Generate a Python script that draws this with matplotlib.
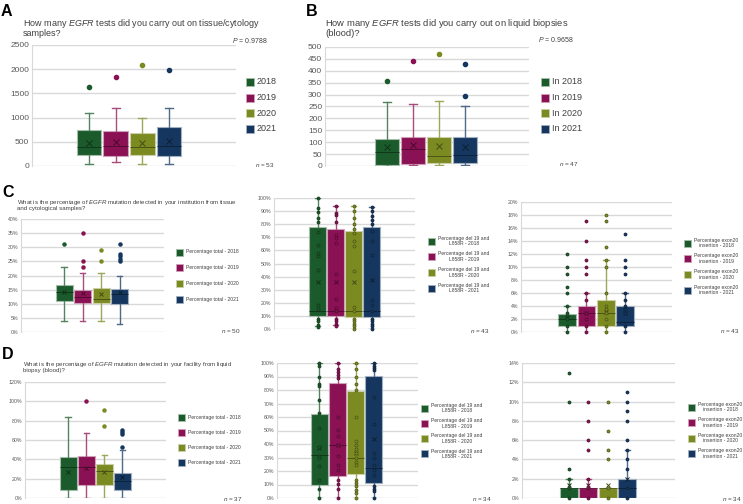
import matplotlib
matplotlib.use('Agg')
import matplotlib.pyplot as plt
import matplotlib.colors as mcolors
from matplotlib.patches import Rectangle
from matplotlib.ticker import PercentFormatter, MultipleLocator

plt.rcParams['font.family'] = ['Liberation Sans', 'DejaVu Sans']
plt.rcParams['mathtext.fontset'] = 'custom'
plt.rcParams['mathtext.rm'] = 'Liberation Sans'
plt.rcParams['mathtext.it'] = 'Liberation Sans:italic'

W, H = 743, 504
colors = ['#1b5a2b', '#8a1153', '#7c8a22', '#15375f']
years = ['2018', '2019', '2020', '2021']

# A - tests on tissue/cytology
a_q1 = [220, 207, 220, 200]
a_med = [400, 405, 400, 420]
a_q3 = [740, 725, 685, 800]
a_lo = [50, 80, 50, 50]
a_hi = [1100, 1200, 1000, 1200]
a_mean = [480, 495, 480, 510]
a_out = [[1640], [1830], [2080], [1990]]

# B - tests on liquid biopsies
b_q1 = [3, 10, 12, 12]
b_med = [58, 70, 40, 45]
b_q3 = [115, 120, 122, 120]
b_lo = [0, 3, 3, 3]
b_hi = [270, 262, 275, 252]
b_mean = [79, 87, 84, 80]
b_out = [[358], [440], [470], [296, 428]]

# C - tissue, percentage total
c1_q1 = [11, 10.4, 10.4, 10]
c1_med = [14, 12.5, 11.8, 13.3]
c1_q3 = [16.8, 15, 15.5, 15.3]
c1_lo = [4, 4, 4, 3]
c1_hi = [23, 21, 21, 20]
c1_mean = [14, 13.9, 13.5, 14.1]
c1_out = [[31], [35, 25, 23], [29, 25], [31, 27.5, 27, 26, 25]]

# C - tissue, del19 and L858R
c2_q1 = [10, 10, 9, 9]
c2_med = [14, 14, 14, 14]
c2_q3 = [78, 76, 75, 77.5]
c2_lo = [2, 3, 0, 0]
c2_hi = [100, 94, 94, 93]
c2_mean = [36, 36, 36, 37.7]
c2_pts = [
    [100, 92, 89, 85, 82, 74, 64, 58, 56, 45, 18.6, 15.5, 7.6, 6, 3.3, 1.5],
    [94, 88.5, 87, 82, 72, 69.5, 66, 42, 23, 16, 13.5, 8, 6, 4, 2.5],
    [94, 90, 85, 80, 76.5, 73, 67.5, 63.6, 44, 16.5, 13.5, 8, 6, 4, 2, 0],
    [93, 90, 86, 83, 80, 74.5, 67.5, 56.7, 22.4, 18.6, 13.5, 8, 6, 4, 2, 0],
]

# C - tissue, exon20 insertion
c3_q1 = [1, 1, 1, 1]
c3_med = [2, 3, 3, 1.5]
c3_q3 = [2.7, 4, 5, 4]
c3_lo = [0, 0, 0, 0]
c3_hi = [4, 6, 11, 6]
c3_mean = [2.3, 3, 3.1, 3]
c3_pts = [
    [12, 10, 9, 7, 6, 4, 3, 2, 1, 0],
    [17, 14, 11, 10, 9, 6, 5, 3, 2, 1, 0],
    [18, 17, 13, 11, 10, 6, 4, 3.5, 3, 2, 1, 0],
    [15, 11, 10, 9, 6, 5, 4, 3.5, 3, 1, 0],
]

# D - liquid biopsy, percentage total
d1_q1 = [8, 13, 13, 8]
d1_med = [32, 32, 28, 18]
d1_q3 = [42, 43.5, 35, 25.5]
d1_lo = [0, 0, 0, 0]
d1_hi = [84, 67, 45, 50]
d1_mean = [27, 31, 27, 21.7]
d1_out = [[], [100], [91, 75], [70, 68, 66, 53]]

# D - liquid biopsy, del19 and L858R
d2_q1 = [10, 16, 18, 11]
d2_med = [32, 39, 30, 22.5]
d2_q3 = [62, 85, 79, 90.5]
d2_lo = [0, 0, 0, 0]
d2_hi = [100, 100, 100, 100]
d2_mean = [37, 39, 33, 43.7]
d2_pts = [
    [100, 97.5, 90, 84.4, 82.7, 72.8, 63, 52, 38, 31, 29.6, 23.5, 13.6, 6.7, 0],
    [100, 95.5, 93, 91.4, 89, 60, 50.6, 45.7, 39.5, 31.4, 24.7, 21, 13, 10.4, 6.7, 0],
    [100, 95.5, 90, 84.4, 80, 60, 42, 39.5, 36, 33, 29.6, 27, 24.7, 13.6, 11, 8.6, 6, 3.7, 0],
    [100, 98, 96, 95, 75, 55, 33, 29.6, 24.7, 21, 17, 8.6, 6.7, 5, 0],
]

# D - liquid biopsy, exon20 insertion
d3_q1 = [0, 0, 0, 0]
d3_med = [1, 1, 1, 1]
d3_q3 = [1, 1, 1, 2]
d3_lo = [0, 0, 0, 0]
d3_hi = [2, 2, 1, 5]
d3_mean = [1.3, 1.4, 1.4, 2]
d3_pts = [
    [13, 10, 3, 2, 1, 0],
    [10, 8, 6, 5, 2, 1, 0],
    [10, 7, 5, 4, 1, 0],
    [11, 10, 9, 8, 6, 5, 4, 3, 1, 0],
]

lab_total = ['Percentage total - ' + y for y in years]
lab_del = ['Percentage del 19 and\nL858R - ' + y for y in years]
lab_exon = ['Percentage exon20\ninsertion - ' + y for y in years]


def shade(c, f):
    r = mcolors.to_rgb(c)
    if f >= 0:
        return tuple(x + (1 - x) * f for x in r)
    return tuple(x * (1 + f) for x in r)


fig = plt.figure(figsize=(W / 100, H / 100), dpi=100)
renderer = fig.canvas.get_renderer()


def fx(x):
    return x / W


def fy(y):
    return 1 - y / H


def panel(rect, q1, med, q3, lo, hi, mean, out, pts, off, span, ymax, step,
          pct=False, fs=3.8, ms=2.2, mx=3.5):
    x0, x1, y0, y1 = rect
    ax = fig.add_axes([fx(x0), fy(y1), (x1 - x0) / W, (y1 - y0) / H])
    stats = []
    for i in range(4):
        stats.append(dict(med=med[i], q1=q1[i], q3=q3[i], whislo=lo[i],
                          whishi=hi[i], mean=mean[i],
                          fliers=out[i] if out else []))
    pos = [1, 2, 3, 4]
    bp = ax.bxp(stats, positions=pos, widths=0.92, patch_artist=True,
                showmeans=True, capwidths=0.3)
    for i, c in enumerate(colors):
        bp['boxes'][i].set(facecolor=c, edgecolor=shade(c, 0.6), linewidth=0.8)
        bp['medians'][i].set(color=shade(c, -0.45), linewidth=0.6)
        for w in bp['whiskers'][2 * i:2 * i + 2] + bp['caps'][2 * i:2 * i + 2]:
            w.set(color=shade(c, 0.25), linewidth=1.0)
        bp['means'][i].set(marker='x', markeredgecolor=shade(c, -0.45),
                           markersize=mx, markeredgewidth=0.7)
        bp['fliers'][i].set(marker='o', markerfacecolor=c, markeredgecolor=c,
                            markersize=ms)
    if pts:
        for i, c in enumerate(colors):
            ax.plot([pos[i]] * len(pts[i]), pts[i], 'o', ms=ms,
                    mfc=c, mec=shade(c, -0.4), mew=0.5, zorder=3, clip_on=False)
    ax.set_xlim(1 - off, 1 - off + span)
    ax.set_ylim(0, ymax)
    ax.yaxis.set_major_locator(MultipleLocator(step))
    if pct:
        ax.yaxis.set_major_formatter(PercentFormatter(decimals=0))
    ax.grid(axis='y', color='#d9d9d9', linewidth=1.0)
    ax.set_axisbelow(True)
    for s in ['top', 'right', 'bottom']:
        ax.spines[s].set_visible(False)
    ax.spines['left'].set_color('#d9d9d9')
    ax.set_xticks([])
    ax.tick_params(axis='y', length=0, labelsize=fs, labelcolor='#595959', pad=2)
    return ax


def legend_at(x, y, sp, labels, fs, sq=7):
    for i, (c, lab) in enumerate(zip(colors, labels)):
        yy = y + i * sp
        fig.add_artist(Rectangle((fx(x), fy(yy + sq / 2)), sq / W, sq / H,
                                 transform=fig.transFigure, facecolor=c,
                                 edgecolor=shade(c, 0.6), linewidth=0.6))
        fig.text(fx(x + sq + 3), fy(yy), lab, fontsize=fs, va='center',
                 ha='left', multialignment='center', color='#404040',
                 linespacing=1.1)


# A
panel((32, 236, 45, 166), a_q1, a_med, a_q3, a_lo, a_hi, a_mean, a_out, None,
      2.13, 7.64, 2500, 500, fs=6, ms=3, mx=5)
# B
panel((325, 529, 47, 166), b_q1, b_med, b_q3, b_lo, b_hi, b_mean, b_out, None,
      2.38, 7.85, 500, 50, fs=6, ms=3, mx=5)
# C
panel((21, 164, 219, 332), c1_q1, c1_med, c1_q3, c1_lo, c1_hi, c1_mean, c1_out,
      None, 2.34, 7.75, 40, 5, pct=True)
panel((274, 415, 198, 329), c2_q1, c2_med, c2_q3, c2_lo, c2_hi, c2_mean, None,
      c2_pts, 2.42, 7.83, 100, 10, pct=True)
panel((521, 672, 202, 332), c3_q1, c3_med, c3_q3, c3_lo, c3_hi, c3_mean, None,
      c3_pts, 2.38, 7.8, 20, 2, pct=True)
# D
panel((25, 166, 382, 498), d1_q1, d1_med, d1_q3, d1_lo, d1_hi, d1_mean, d1_out,
      None, 2.39, 7.8, 120, 20, pct=True)
panel((277, 418, 363, 498), d2_q1, d2_med, d2_q3, d2_lo, d2_hi, d2_mean, None,
      d2_pts, 2.36, 7.83, 100, 10, pct=True)
panel((522, 675, 363, 498), d3_q1, d3_med, d3_q3, d3_lo, d3_hi, d3_mean, None,
      d3_pts, 2.41, 7.85, 14, 2, pct=True)

# legends
legend_at(246, 82, 15.5, years, 6.5, sq=8)
legend_at(541, 82, 15.5, ['In ' + y for y in years], 6.5, sq=8)
legend_at(176, 252, 15.7, lab_total, 3.6)
legend_at(428, 241, 15.7, lab_del, 3.6)
legend_at(684, 243, 15.7, lab_exon, 3.6)
legend_at(178, 417, 15.3, lab_total, 3.6)
legend_at(421, 408, 15.3, lab_del, 3.6)
legend_at(688, 407, 15.5, lab_exon, 3.6)

# panel letters and titles
for lx, ly, s in [(1, 4, 'A'), (306, 4, 'B'), (2, 185, 'C'), (2, 347, 'D')]:
    fig.text(fx(lx), fy(ly), s, fontsize=11.5, fontweight='bold', va='top')


def title(x, y, lines, width, dy):
    # first line sets the font size so that it spans `width` pixels
    t = fig.text(fx(x), fy(y), lines[0], fontsize=10, va='baseline',
                 color='#404040')
    w = t.get_window_extent(renderer).width
    fs = 10 * width / w
    t.set_fontsize(fs)
    for k, line in enumerate(lines[1:], 1):
        fig.text(fx(x), fy(y + k * dy), line, fontsize=fs, va='baseline',
                 color='#404040')


title(23, 25.7, ['How many $\\mathit{EGFR}$ tests did you carry out on tissue/cytology',
                 'samples?'], 237, 10.8)
title(325, 25.7, ['How many $\\mathit{EGFR}$ tests did you carry out on liquid biopsies',
                  '(blood)?'], 243, 10.8)
title(17, 204, ['What is the percentage of $\\mathit{EGFR}$ mutation detected in your institution from tissue',
                'and cytological samples?'], 217, 5.7)
title(23, 365.7, ['What is the percentage of $\\mathit{EGFR}$ mutation detected in your facility from liquid',
                  'biopsy (blood)?'], 207, 6.2)

# P values and n
fig.text(fx(268), fy(40.5), '$\\mathit{P}$ = 0.9788', fontsize=5, ha='right', va='center', color='#404040')
fig.text(fx(574), fy(39.5), '$\\mathit{P}$ = 0.9658', fontsize=5, ha='right', va='center', color='#404040')
for nx, ny, s in [(275, 165, '53'), (579, 164, '47'), (241, 331, '50'),
                  (490, 331, '43'), (740, 331, '43'), (243, 499, '37'),
                  (492, 499, '34'), (742, 499, '34')]:
    fig.text(fx(nx), fy(ny), '$\\mathit{n}$ = ' + s, fontsize=4.6, ha='right',
             va='center', color='#404040')

fig.savefig('out.png', dpi=100)
